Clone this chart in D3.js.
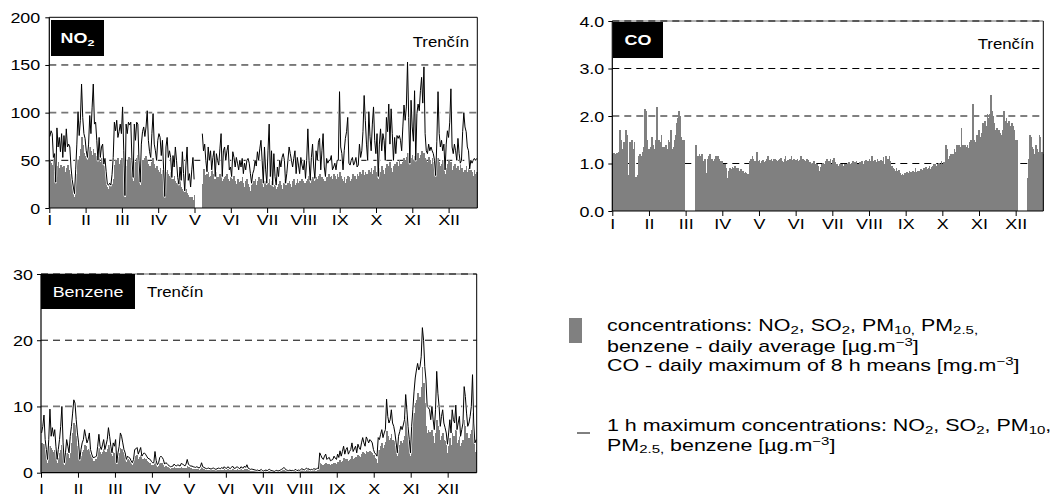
<!DOCTYPE html>
<html><head><meta charset="utf-8">
<script src="https://cdn.jsdelivr.net/npm/d3@7"></script>
<style>body{margin:0;background:#fff}svg{display:block}text{font-family:"Liberation Sans",Arial,sans-serif}</style>
</head><body><svg id="c" width="1050" height="500"></svg>
<script>
const months = ["I","II","III","IV","V","VI","VII","VIII","IX","X","XI","XII"];
const no2Ticks = [0,50,100,150,200];
const coTicks = [0,1,2,3,4];
const benzTicks = [0,10,20,30];
const N = null;

// NO2 daily average (µg/m3), Jan..Dec
const no2Avg = [
50,47,45,52,38,22,44,48,42,45,43,40,44,38,42,45,40,36,30,24,15,12,22,36,50,55,62,74,66,58,55,
52,50,58,64,60,56,62,58,55,52,50,54,48,52,48,44,40,35,22,20,24,22,25,30,45,50,48,52,
46,50,52,48,50,12,44,50,53,48,52,42,28,50,48,52,56,45,24,46,50,48,52,55,50,46,44,42,48,52,46,
42,44,40,38,42,36,40,34,10,38,40,36,34,38,28,30,34,28,26,28,22,28,22,20,18,14,20,16,14,12,
10,12,8,14,N,N,N,N,N,N,25,41,35,30,36,38,32,34,40,36,30,30,38,33,28,36,40,28,30,32,34,
36,30,28,32,26,30,34,28,25,30,27,24,28,32,26,22,28,30,25,22,18,24,26,28,30,24,28,32,26,30,
26,22,28,24,20,26,30,24,28,22,20,24,20,22,25,28,24,20,26,30,24,22,26,28,25,22,28,30,24,26,30,
26,28,24,30,28,26,26,28,30,34,26,30,32,28,26,32,30,34,36,28,32,30,28,28,32,30,36,32,34,30,36,
34,30,36,32,38,34,30,28,32,26,30,34,32,28,30,36,32,34,30,36,34,38,32,36,40,35,38,36,34,40,
38,42,36,40,44,38,34,30,42,38,44,40,36,42,46,40,44,48,42,38,44,46,42,48,44,50,46,42,48,52,50,
54,58,50,46,52,56,50,55,48,54,58,52,56,60,54,58,52,50,48,54,50,46,52,48,44,30,46,52,48,44,
46,50,44,36,42,46,50,44,48,40,44,46,42,38,44,40,46,42,38,36,40,44,38,42,36,40,38,34,40,36,38];

// NO2 1 h maximum
const no2Max = [
75,81,78,53,57,27,84,64,74,59,78,53,76,59,83,64,67,64,43,30,22,15,40,67,101,76,92,130,95,78,73,
60,53,67,97,78,105,130,88,90,71,50,74,53,64,67,46,52,38,25,24,26,24,35,53,90,81,92,74,
80,88,78,106,60,13,88,78,90,87,90,50,32,88,71,90,88,50,27,67,80,85,75,85,102,71,59,53,78,99,67,
60,50,71,78,74,55,71,40,12,64,74,53,60,53,32,55,43,64,50,32,25,43,29,59,36,18,45,64,29,36,
22,40,53,30,N,N,N,N,N,N,78,60,67,50,38,64,50,60,40,53,60,33,57,50,45,62,78,33,60,64,50,
60,66,40,43,33,59,53,43,53,47,40,50,43,52,36,47,40,50,52,47,36,26,36,40,50,44,59,50,62,71,
50,26,64,40,26,60,88,33,60,24,57,33,24,43,33,50,43,53,57,50,26,36,50,64,57,50,43,52,60,36,53,
45,36,53,45,40,50,31,50,83,50,29,53,67,43,31,60,50,69,73,40,60,78,43,33,52,47,50,50,55,40,43,
47,40,50,50,122,64,57,40,60,73,80,95,47,45,50,53,45,48,53,43,45,67,53,60,80,118,92,67,50,101,
75,60,88,106,71,57,78,33,67,83,60,78,71,50,95,80,109,67,104,78,50,74,57,76,73,76,71,60,85,108,92,
106,153,95,47,113,85,70,123,50,99,109,102,123,137,110,148,78,60,57,67,60,64,60,57,50,34,70,122,78,64,
71,60,67,40,67,81,74,90,125,64,57,67,60,50,73,57,47,50,80,100,85,80,64,60,41,50,47,50,52,50,52];

// CO daily maximum of 8 h means (mg/m3)
const coMax8h = [
1.2,1.22,1.2,1.22,0.6,1.25,1.7,1.5,1.3,1.45,1.2,1.7,1.6,0.75,1.45,1.35,1.5,1.3,1.45,0.72,0.72,0.75,1.15,1.2,1.15,1.25,1.35,2.15,2.1,1.5,1.3,
1.3,1.35,1.55,1.4,1.3,1.5,2.2,1.4,1.5,1.45,1.6,1.35,1.35,1.3,1.4,1.3,1.5,1.45,1.7,1.3,1.35,1.5,1.6,1.85,1.95,2.1,2.0,1.55,
1.5,1.5,N,N,N,N,N,N,N,N,N,1.4,1.0,1.15,1.2,1.15,1.2,0.9,1.05,1.1,0.8,1.1,1.15,1.2,1.05,1.1,1.05,1.1,1.15,1.1,1.15,
1.1,1.05,1.05,1.0,0.95,1.0,0.9,0.7,0.85,0.9,0.88,0.92,0.9,0.95,0.88,0.9,0.9,0.85,0.88,0.85,0.85,0.8,0.82,0.8,0.78,0.78,1.05,1.1,1.15,1.1,
1.05,1.05,1.25,1.05,1.08,1.02,1.05,1.07,1.03,1.06,1.1,1.15,1.05,1.08,1.1,1.06,1.09,1.1,1.07,1.05,1.08,1.1,1.12,1.06,1.04,1.1,1.15,1.05,1.08,1.06,1.1,
1.15,1.08,1.1,1.05,1.07,1.1,1.05,1.08,1.15,1.06,1.1,1.08,1.05,1.1,1.07,1.0,1.03,1.0,1.02,1.05,1.0,0.98,1.0,0.95,0.85,0.92,1.0,1.02,0.98,1.05,
1.1,1.0,1.05,1.1,1.0,1.08,1.12,1.03,1.0,0.98,0.95,1.0,0.97,1.0,0.95,0.98,1.0,0.96,1.0,1.03,1.0,1.02,1.05,1.0,1.03,1.05,0.98,1.0,1.04,1.02,1.06,
1.0,1.05,1.08,1.02,1.05,1.1,1.05,1.15,1.05,1.0,1.08,1.03,1.1,1.05,1.0,1.08,1.05,1.13,1.0,1.15,1.08,1.1,1.15,1.05,0.95,0.9,0.88,0.85,0.9,0.85,0.87,
0.8,0.75,0.78,0.76,0.8,0.77,0.82,0.8,0.85,0.82,0.8,0.85,0.83,0.9,0.82,0.85,0.8,0.84,0.88,0.86,0.9,0.85,0.92,0.88,0.9,0.95,0.88,0.92,0.95,0.98,
1.0,0.95,1.0,1.02,0.98,1.05,1.0,1.03,1.0,1.4,1.3,1.1,1.15,1.2,1.12,1.2,1.3,1.25,1.38,1.3,1.4,1.35,1.75,1.4,1.3,1.38,1.35,1.4,1.32,1.45,1.5,
1.45,2.25,1.5,1.45,1.6,1.4,1.7,1.55,1.65,1.85,1.75,1.9,1.8,2.05,1.95,2.05,2.45,2.1,2.0,1.85,1.7,1.75,1.6,1.7,1.65,1.6,1.7,2.1,1.9,1.95,
1.85,1.9,1.8,1.75,1.85,1.8,1.7,1.5,1.5,N,N,N,N,N,N,N,N,0.7,1.1,1.6,1.55,1.35,1.3,1.2,1.4,1.3,1.25,1.6,1.55,1.25,1.2];

// Benzene daily average
const benzAvg = [
4.5,4.3,4.4,3.5,2.5,1.5,3,4,3.8,3.5,3.2,3.5,2.8,1.5,2.2,3,3.5,4.2,3,1.2,2,3,2.8,2.2,3,4.5,6,7.5,7.2,5.5,4,
3.5,1.5,2.5,3.2,3.5,4.2,4,3.5,3.6,4,2.8,2.2,1.8,1.8,2,2.1,3,3.8,3.2,2.8,3.2,3.6,2.8,3.2,3.6,4.2,3.8,3.2,
2.5,3.2,3,3.4,1.2,2.4,3,3.8,3.6,3.2,2.7,2.4,1.6,2,1.9,1.8,1.5,1.2,1.6,2.4,2.5,2.6,2.1,2.4,2.6,1.9,2.1,2.2,2,1.8,1.6,
1.5,1.4,1.2,1.1,1.1,1.8,1.2,0.9,1.0,1.4,1.5,1.4,1.2,0.9,1.0,0.9,0.8,0.7,0.6,0.65,0.7,0.8,0.7,0.65,0.75,0.7,0.65,0.8,0.75,0.7,
0.6,0.7,1.0,0.8,0.7,0.65,0.6,0.55,0.5,0.5,0.55,0.5,0.45,0.55,0.8,0.55,0.5,0.45,0.4,0.42,0.45,0.4,0.38,0.42,0.45,0.4,0.35,0.4,0.45,0.42,0.4,
0.45,0.4,0.5,0.45,0.4,0.5,0.45,0.4,0.45,0.55,0.45,0.4,0.45,0.5,0.4,0.38,0.5,0.42,0.4,0.55,0.45,0.6,0.4,0.35,0.3,0.32,0.3,0.28,0.25,0.22,
0.25,0.2,0.22,0.3,0.2,0.18,0.22,0.25,0.2,0.28,0.3,0.22,0.2,0.18,0.15,0.2,0.22,0.18,0.2,0.25,0.3,0.35,0.45,0.35,0.25,0.22,0.2,0.25,0.2,0.22,0.2,
0.25,0.3,0.2,0.25,0.22,0.28,0.35,0.3,0.25,0.32,0.4,0.3,0.35,0.25,0.3,0.28,0.35,0.32,0.3,0.4,0.35,1.5,1.3,1.2,1.1,1.3,1.4,1.2,1.3,1.35,1.2,
1.25,1.3,1.5,1.4,1.3,1.6,1.5,1.9,1.6,1.8,2.2,1.7,2.0,2.1,1.8,1.9,2.1,2.5,2.0,2.2,2.4,2.0,2.6,2.5,2.4,2.8,3.2,3.0,2.8,3.3,
3.2,3.0,3.3,3.2,3.0,2.6,2.2,2.0,1.5,3.5,3.4,4.0,4.5,3.8,4.2,4.6,6.3,5.5,5.0,5.2,5.8,5.0,4.8,4.0,3.2,2.5,3.5,4.2,4.8,4.5,5.0,
5.5,8.5,7.0,5.5,3.8,2.5,5.0,7.0,9.0,10.5,11.0,12.0,11.0,11.5,13.0,16.0,13.5,10.5,7.0,6.0,6.5,6.2,5.5,6.5,5.5,4.5,6.0,8.0,7.0,6.5,
5.0,5.5,6.0,5.0,4.8,4.2,3.0,4.0,5.2,4.2,6.0,5.5,5.0,6.5,4.5,5.0,5.5,4.0,4.5,5.0,8.0,7.0,6.0,5.0,5.2,5.8,6.5,9.0,5.0,3.2,3.5];

// Benzene 1 h maximum
const benzMax = [
6,7,8.7,5,3.5,2,5,9.6,5.5,6.8,5.5,6.5,4,2,3.5,5,7,10,4.5,1.5,3,5,4,3,5.5,7,9,11,10.5,8,6,
4.5,2,3.5,4.5,5,6.5,5.5,4.5,5,6,3.5,2.8,2.3,2.3,2.4,2.5,4,5.8,4,3.5,4.2,5,3.5,4.2,5,6.8,5.5,4,
3,4.5,4,5,1.5,3,4,6,5.5,4.5,3.5,3,2,2.5,2.3,2.2,1.8,1.5,2,3.5,3.6,3.8,2.8,3.3,3.8,2.5,2.8,3,2.8,2.5,2.2,
2.1,2,1.7,1.5,1.5,3.2,1.8,1.2,1.5,2.3,2.5,2.3,2,1.3,1.5,1.4,1.2,1.0,0.9,0.95,1.0,1.3,1.1,1.0,1.2,1.1,1.0,1.4,1.3,1.2,
1.0,1.3,2.0,1.3,1.1,1.0,1.0,0.9,0.85,0.8,0.9,0.8,0.7,0.9,1.5,0.9,0.8,0.7,0.6,0.65,0.7,0.6,0.55,0.65,0.7,0.6,0.5,0.6,0.7,0.65,0.6,
0.8,0.6,0.9,0.7,0.65,0.9,0.75,0.6,0.8,1.0,0.7,0.65,0.8,0.9,0.7,0.6,0.9,0.75,0.7,1.0,0.8,1.2,0.7,0.6,0.5,0.55,0.5,0.45,0.4,0.35,
0.4,0.3,0.35,0.5,0.3,0.25,0.35,0.4,0.3,0.45,0.5,0.35,0.3,0.25,0.2,0.3,0.35,0.25,0.3,0.4,0.5,0.6,0.8,0.6,0.4,0.35,0.3,0.4,0.3,0.35,0.3,
0.4,0.5,0.3,0.4,0.35,0.45,0.6,0.5,0.4,0.55,0.7,0.5,0.6,0.4,0.5,0.45,0.6,0.55,0.5,0.7,0.6,3.0,2.6,2.2,2.0,2.5,2.8,2.0,2.2,2.3,1.8,
1.9,2.0,2.5,2.2,2.0,2.8,2.3,3.3,2.5,3.2,4.0,2.8,3.5,3.8,2.8,3.2,3.5,4.5,3.2,3.6,4.0,3.0,4.3,3.8,3.5,4.5,5.3,4.5,4.0,5.4,
5.0,4.5,5.0,4.8,4.5,3.5,3.0,2.8,2.5,5.3,5.0,5.8,6.5,5.3,6.0,6.5,11.1,8.5,7.5,8.0,9.5,7.5,7.0,6.0,4.5,3.0,5.5,6.2,7.0,6.5,7.2,
8.0,11.8,9.5,7.0,5.0,3.0,7.0,9.5,12.2,14.3,15.5,16.5,15.5,16.0,17.5,21.9,20.0,16.0,14.0,10.0,9.8,9.5,8.0,10.0,8.0,6.5,9.5,15.3,12.0,10.0,
7.0,8.5,9.5,7.5,6.8,6.0,4.3,6.0,8.0,6.0,9.5,8.0,7.5,10.2,6.5,7.5,8.5,5.5,6.5,7.5,13.0,11.5,9.0,7.0,7.5,8.5,10.0,14.8,7.5,4.5,5.0];

const svg = d3.select("#c");
const SX = 1.28;        // horizontal stretch of the lettering
const FONT = 14;
const FAM = '"Liberation Sans",Arial,sans-serif';

function stext(parent, x, y, anchor, size, sx, parts, opts = {}) {
  const t = parent.append("text")
    .attr("transform", `translate(${x},${y}) scale(${sx},1)`)
    .attr("text-anchor", anchor)
    .style("font-size", size + "px")
    .style("white-space", "pre")
    .attr("fill", opts.fill || "#000")
    .style("font-weight", opts.weight || "normal");
  let shift = 0;
  parts.forEach(p => {
    const [str, kind] = Array.isArray(p) ? p : [p, "n"];
    const target = kind === "sub" ? size * 0.18 : kind === "sup" ? -size * 0.32 : 0;
    t.append("tspan").attr("dy", target - shift)
      .style("font-size", kind === "n" ? size + "px" : (size * 0.7) + "px")
      .text(str);
    shift = target;
  });
  return t;
}

function panel(cfg) {
  const g = svg.append("g");
  const x = d3.scaleLinear().domain([0, 365]).range([cfg.left, cfg.right]);
  const y = d3.scaleLinear().domain(cfg.yDomain).range([cfg.bottom, cfg.top]);
  const m = d3.scalePoint().domain(months).range([cfg.left, cfg.left + 11 * cfg.step]);

  cfg.grid.forEach(gl => {
    g.append("line").attr("x1", cfg.left).attr("x2", cfg.right)
      .attr("y1", y(gl.v)).attr("y2", y(gl.v))
      .attr("stroke", gl.c).attr("stroke-width", gl.w).attr("stroke-dasharray", "7,5");
  });

  g.append("g").attr("shape-rendering", "crispEdges").selectAll("rect")
    .data(cfg.avg.map((v, i) => ({ v, i })).filter(d => d.v != null))
    .join("rect")
    .attr("x", d => x(d.i)).attr("width", d => x(d.i + 1) - x(d.i) + 0.5)
    .attr("y", d => y(d.v)).attr("height", d => y(0) - y(d.v))
    .attr("fill", "#808080");

  if (cfg.max) {
    const line = d3.line().defined(d => d != null).x((d, i) => x(i + 0.5)).y(d => y(d));
    g.append("path").datum(cfg.max).attr("d", line).attr("fill", "none")
      .attr("stroke", "#fff").attr("stroke-width", 2.4).attr("stroke-linejoin", "round");
    g.append("path").datum(cfg.max).attr("d", line).attr("fill", "none")
      .attr("stroke", "#000").attr("stroke-width", 1).attr("stroke-linejoin", "round");
  }

  // frame
  if (cfg.dashedTop) {
    g.append("line").attr("x1", cfg.left).attr("x2", cfg.right).attr("y1", cfg.top).attr("y2", cfg.top)
      .attr("stroke", "#666").attr("stroke-width", 1);
    g.append("line").attr("x1", cfg.left).attr("x2", cfg.right).attr("y1", cfg.top).attr("y2", cfg.top)
      .attr("stroke", "#000").attr("stroke-width", 1.2).attr("stroke-dasharray", "7,5");
  } else {
    g.append("line").attr("x1", cfg.left).attr("x2", cfg.right).attr("y1", cfg.top).attr("y2", cfg.top)
      .attr("stroke", "#000").attr("stroke-width", 1);
  }
  g.append("line").attr("x1", cfg.right).attr("x2", cfg.right).attr("y1", cfg.top).attr("y2", cfg.bottom)
    .attr("stroke", "#000").attr("stroke-width", 1);
  g.append("line").attr("x1", cfg.left).attr("x2", cfg.left).attr("y1", cfg.top).attr("y2", cfg.bottom)
    .attr("stroke", "#000").attr("stroke-width", 1.2);
  g.append("line").attr("x1", cfg.left).attr("x2", cfg.right).attr("y1", cfg.bottom).attr("y2", cfg.bottom)
    .attr("stroke", "#000").attr("stroke-width", 1.2);

  // y axis
  const ya = g.append("g").attr("transform", `translate(${cfg.left},0)`)
    .call(d3.axisLeft(y).tickValues(cfg.yTicks).tickFormat(cfg.fmt).tickSize(4).tickSizeOuter(0));
  ya.select(".domain").remove();
  ya.selectAll("line").attr("stroke", "#000");
  ya.selectAll("text").attr("x", null).attr("dy", null)
    .attr("transform", `translate(${-cfg.ylabGap},5) scale(${SX},1)`)
    .style("font-size", FONT + "px").style("font-family", FAM).attr("fill", "#000");

  // x axis
  const xa = g.append("g").attr("transform", `translate(0,${cfg.bottom})`)
    .call(d3.axisBottom(m).tickSize(5).tickSizeOuter(0));
  xa.select(".domain").remove();
  xa.selectAll("line").attr("stroke", "#000");
  xa.selectAll("text").attr("y", null).attr("dy", null)
    .attr("transform", `translate(0,${cfg.xlabDy}) scale(${SX},1)`)
    .style("font-size", FONT + "px").style("font-family", FAM).attr("fill", "#000");

  // label box
  g.append("rect").attr("x", cfg.box[0]).attr("y", cfg.box[1]).attr("width", cfg.box[2]).attr("height", cfg.box[3]).attr("fill", "#000");
  stext(g, cfg.box[0] + cfg.box[2] / 2, cfg.box[1] + cfg.box[3] / 2 + 5, "middle", cfg.boxFont, SX, cfg.boxText,
    { fill: "#fff", weight: cfg.boxWeight });
  stext(g, cfg.city[0], cfg.city[1], cfg.city[2], FONT, 1.2, ["Trenčín"]);
}

panel({
  left: 49.3, right: 477.3, top: 17.3, bottom: 208, step: 36.3,
  yDomain: [0, 200], yTicks: no2Ticks, fmt: d3.format("d"), ylabGap: 9,
  grid: [{ v: 150, c: "#000", w: 1 }, { v: 100, c: "#777", w: 1.7 }, { v: 50, c: "#000", w: 1 }],
  avg: no2Avg, max: no2Max, xlabDy: 17,
  box: [51, 20, 53, 36], boxFont: 14, boxWeight: "bold", boxText: ["NO", ["2", "sub"]],
  city: [469, 47, "end"]
});

panel({
  left: 612.3, right: 1043.3, top: 21, bottom: 211, step: 36.67, dashedTop: true,
  yDomain: [0, 4], yTicks: coTicks, fmt: d3.format(".1f"), ylabGap: 8,
  grid: [{ v: 3, c: "#000", w: 1 }, { v: 2, c: "#000", w: 1 }, { v: 1, c: "#000", w: 1 }],
  avg: coMax8h, max: null, xlabDy: 18,
  box: [613, 22, 50, 36], boxFont: 14, boxWeight: "bold", boxText: ["CO"],
  city: [1034, 49, "end"]
});

panel({
  left: 41, right: 476.7, top: 274, bottom: 472.7, step: 36.97, dashedTop: true,
  yDomain: [0, 30], yTicks: benzTicks, fmt: d3.format("d"), ylabGap: 8,
  grid: [{ v: 20, c: "#000", w: 1 }, { v: 10, c: "#777", w: 1.7 }],
  avg: benzAvg, max: benzMax, xlabDy: 21,
  box: [41, 274, 94, 35], boxFont: 14, boxWeight: "normal", boxText: ["Benzene"],
  city: [147, 297, "start"]
});

// legend
const lg = svg.append("g");
lg.append("rect").attr("x", 569).attr("y", 318).attr("width", 13).attr("height", 25).attr("fill", "#808080");
lg.append("line").attr("x1", 577).attr("x2", 590).attr("y1", 433).attr("y2", 433).attr("stroke", "#000").attr("stroke-width", 1);
const LS = 16, LSX = 1.34, LX = 607;
stext(lg, LX, 331, "start", LS, LSX, ["concentrations: NO", ["2", "sub"], ", SO", ["2", "sub"], ", PM", ["10,", "sub"], " PM", ["2.5,", "sub"]]);
stext(lg, LX, 351.5, "start", LS, LSX, ["benzene - daily average [µg.m", ["−3", "sup"], "]"]);
stext(lg, LX, 370.5, "start", LS, LSX, ["CO - daily maximum of 8 h means [mg.m", ["−3", "sup"], "]"]);
stext(lg, LX, 431, "start", LS, LSX, ["1 h maximum concentrations: NO", ["2", "sub"], ", SO", ["2", "sub"], ", PM", ["10", "sub"], ","]);
stext(lg, LX, 450.5, "start", LS, LSX, ["PM", ["2.5,", "sub"], " benzene [µg.m", ["−3", "sup"], "]"]);
</script></body></html>
